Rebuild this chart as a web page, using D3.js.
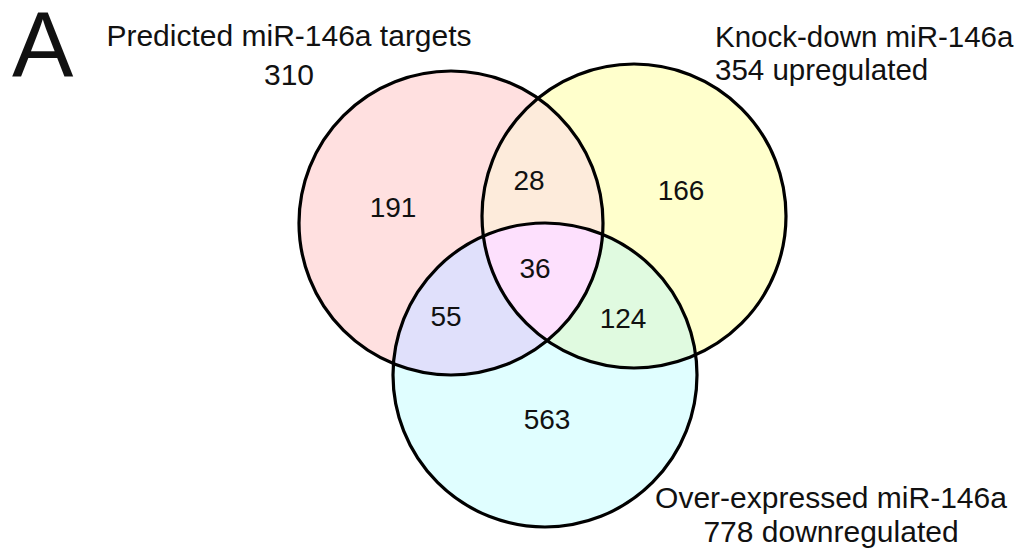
<!DOCTYPE html>
<html>
<head>
<meta charset="utf-8">
<script src="https://cdn.jsdelivr.net/npm/d3@7"></script>
<style>
  html, body { margin: 0; padding: 0; background: #fff; }
  svg { display: block; }
  text { font-family: "Liberation Sans", Arial, sans-serif; fill: #111; }
</style>
</head>
<body>
<svg id="chart" width="1014" height="552"></svg>
<script>
// Sets and their totals
const setKeys = ["A", "B", "C"];
const setNames = ["Predicted miR-146a targets", "Knock-down miR-146a", "Over-expressed miR-146a"];
const setTotals = [310, 354, 778];
const setDirections = ["", "upregulated", "downregulated"];

// Exclusive region counts
const regionKeys = ["A", "B", "C", "AB", "AC", "BC", "ABC"];
const regionCounts = [191, 166, 563, 28, 55, 124, 36];

// Fill colours per region
const regionColors = {
  A: "#ffe0e0", B: "#ffffcc", C: "#e0feff",
  AB: "#fdebdb", AC: "#e0e0fb", BC: "#e0fae0", ABC: "#fde0fd"
};

// Circle layout
const circles = {
  A: { cx: 451, cy: 223, r: 152 },
  B: { cx: 634, cy: 216, r: 152 },
  C: { cx: 545, cy: 375, r: 152 }
};

// Region label anchor points (text baseline)
const regionLabelPos = {
  A: [393, 217], B: [681, 200], C: [547, 429],
  AB: [529, 190], AC: [446, 326], BC: [623, 328], ABC: [535, 278]
};

const svg = d3.select("#chart");
const defs = svg.append("defs");

setKeys.forEach(k => {
  defs.append("clipPath").attr("id", "clip-" + k)
    .append("circle")
    .attr("cx", circles[k].cx).attr("cy", circles[k].cy).attr("r", circles[k].r);
});

const fills = svg.append("g");

// Single-set fills
setKeys.forEach(k => {
  fills.append("circle")
    .attr("cx", circles[k].cx).attr("cy", circles[k].cy).attr("r", circles[k].r)
    .attr("fill", regionColors[k]);
});

// Pairwise overlaps: circle of the second set clipped by the first
[["A", "B"], ["A", "C"], ["B", "C"]].forEach(([p, q]) => {
  fills.append("g").attr("clip-path", `url(#clip-${p})`)
    .append("circle")
    .attr("cx", circles[q].cx).attr("cy", circles[q].cy).attr("r", circles[q].r)
    .attr("fill", regionColors[p + q]);
});

// Triple overlap
fills.append("g").attr("clip-path", "url(#clip-A)")
  .append("g").attr("clip-path", "url(#clip-B)")
  .append("circle")
  .attr("cx", circles.C.cx).attr("cy", circles.C.cy).attr("r", circles.C.r)
  .attr("fill", regionColors.ABC);

// Outlines
svg.append("g").selectAll("circle")
  .data(setKeys)
  .join("circle")
  .attr("cx", k => circles[k].cx).attr("cy", k => circles[k].cy).attr("r", k => circles[k].r)
  .attr("fill", "none").attr("stroke", "#000").attr("stroke-width", 3.2);

// Region counts
svg.append("g").selectAll("text")
  .data(regionKeys.map((k, i) => ({ key: k, value: regionCounts[i] })))
  .join("text")
  .attr("x", d => regionLabelPos[d.key][0])
  .attr("y", d => regionLabelPos[d.key][1])
  .attr("text-anchor", "middle")
  .attr("font-size", 28)
  .text(d => d.value);

// Set titles
const titles = [
  { x: 289, y: 46, anchor: "middle", lines: [setNames[0], String(setTotals[0])], dy: 39, size: 30 },
  { x: 715, y: 47, anchor: "start", lines: [setNames[1], setTotals[1] + " " + setDirections[1]], dy: 33, size: 29.5 },
  { x: 831, y: 508, anchor: "middle", lines: [setNames[2], setTotals[2] + " " + setDirections[2]], dy: 34, size: 30 }
];
titles.forEach(t => {
  const txt = svg.append("text")
    .attr("x", t.x).attr("y", t.y)
    .attr("text-anchor", t.anchor)
    .attr("font-size", t.size);
  t.lines.forEach((line, i) => {
    txt.append("tspan").attr("x", t.x).attr("dy", i === 0 ? 0 : t.dy).text(line);
  });
});

// Panel letter
svg.append("text")
  .attr("x", 12).attr("y", 77)
  .attr("font-size", 92)
  .text("A");
</script>
</body>
</html>
